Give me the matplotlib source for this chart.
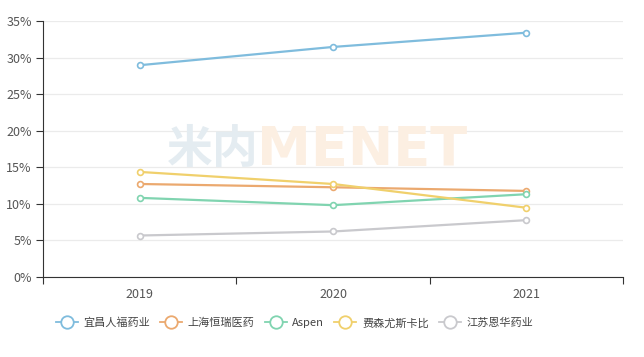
import matplotlib.pyplot as plt
from matplotlib.lines import Line2D

plt.rcParams['font.family'] = ['Noto Sans CJK SC', 'DejaVu Sans']

# --- data --- #
years = ['2019', '2020', '2021']
names = ['宜昌人福药业', '上海恒瑞医药', 'Aspen', '费森尤斯卡比', '江苏恩华药业']
renfu = [28.95, 31.45, 33.4]
hengrui = [12.7, 12.25, 11.75]
aspen = [10.8, 9.8, 11.3]
fresenius = [14.35, 12.7, 9.45]
enhua = [5.65, 6.2, 7.75]
series = [renfu, hengrui, aspen, fresenius, enhua]
colors = ['#7fbcdd', '#eba96f', '#80d4b0', '#f0d06c', '#c9c9cd']
yticks = [0, 5, 10, 15, 20, 25, 30, 35]

fig = plt.figure(figsize=(6.44, 3.57), dpi=100)
ax = fig.add_axes([43/644, 1-276.8/357, 580/644, 255.8/357])

x = list(range(len(years)))
for vals, c in zip(series, colors):
    ax.plot(x, vals, color=c, lw=1.6, marker='o', ms=4.2,
            mfc='white', mec=c, mew=1.2, zorder=3)

# watermark
ax.text(124/580, 0.495, '米内', transform=ax.transAxes, fontsize=33, fontweight='bold',
        color='#e4ecf1', ha='left', va='center', zorder=1)
ax.text(214/580, 0.495, 'MENET', transform=ax.transAxes, fontsize=39, fontweight='bold',
        color='#fcefe2', ha='left', va='center', zorder=1, family='DejaVu Sans')

ax.set_xlim(-0.5, 2.5)
ax.set_ylim(0, 35)
ax.set_yticks(yticks)
ax.set_yticklabels([f'{v}%' for v in yticks])
ax.set_xticks([-0.5, 0.5, 1.5, 2.5])
ax.set_xticklabels([])
ax.set_xticks(x, minor=True)
ax.set_xticklabels(years, minor=True)
ax.tick_params(axis='x', which='minor', length=0, pad=8, labelsize=9, labelcolor='#555555')
ax.tick_params(axis='x', which='major', length=5, color='#333333')
ax.tick_params(axis='y', length=5, color='#333333', labelsize=9, labelcolor='#555555', pad=3)

ax.grid(axis='y', color='#ebebeb', lw=0.9, zorder=0)
ax.set_axisbelow(True)
for s in ['top', 'right']:
    ax.spines[s].set_visible(False)
ax.spines['left'].set_color('#333333')
ax.spines['bottom'].set_color('#333333')

handles = [Line2D([0], [0], color=c, lw=1.3, marker='o', ms=9, mfc='white',
                  mec=c, mew=1.3) for c in colors]
fig.legend(handles, names, loc='center left', bbox_to_anchor=(50/644, 1-323/357), ncol=5,
           frameon=False, fontsize=8, handlelength=2.0, handletextpad=0.5,
           columnspacing=0.9, labelcolor='#444444', borderpad=0)

fig.savefig('out.png', dpi=100)
